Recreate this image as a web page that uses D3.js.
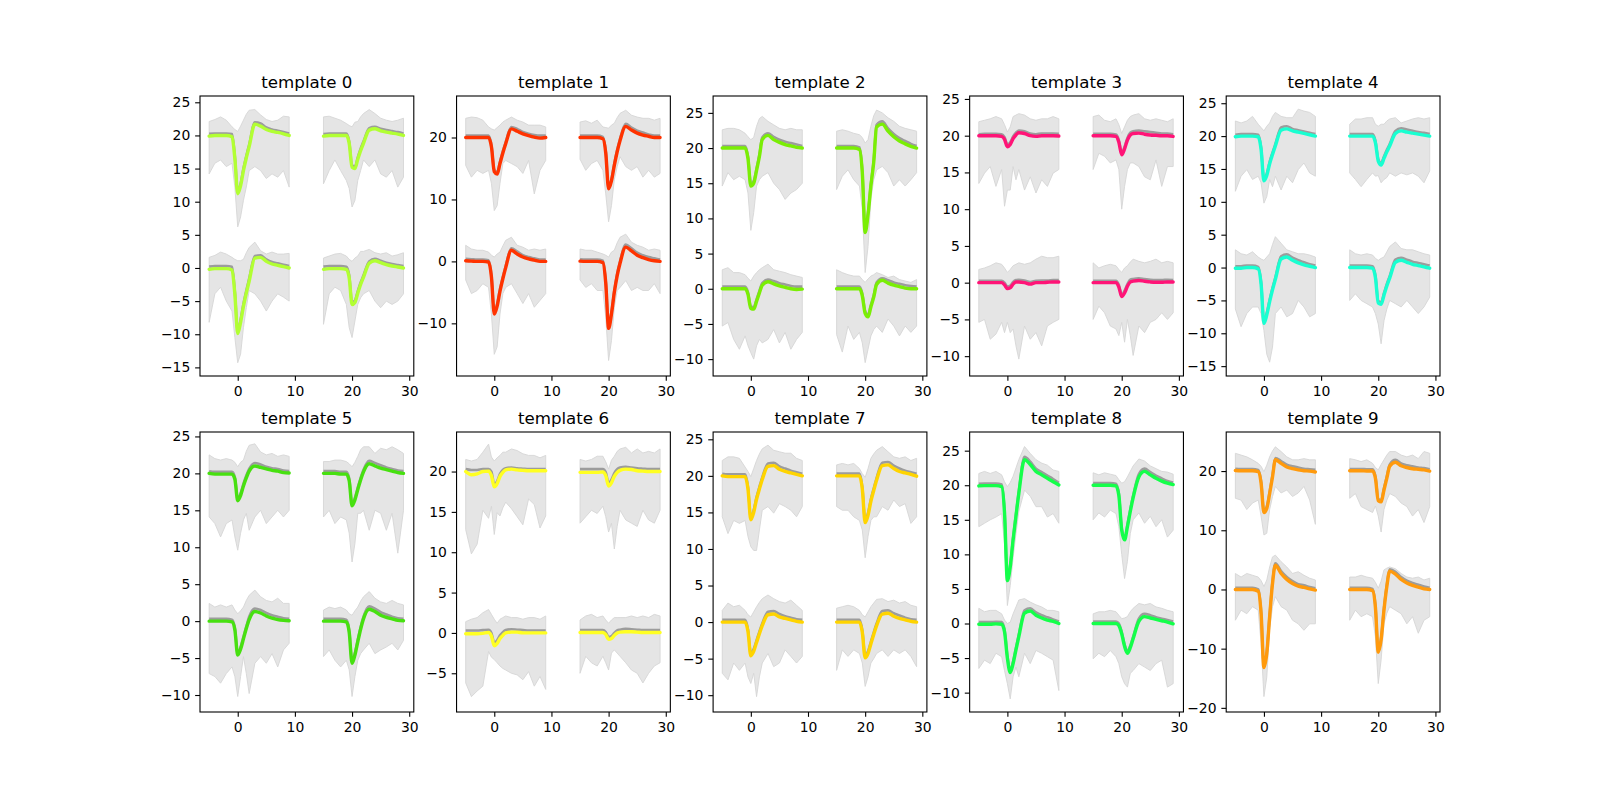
<!DOCTYPE html>
<html>
<head>
<meta charset="utf-8">
<script src="https://cdn.jsdelivr.net/npm/d3@7"></script>
<style>
  body { margin: 0; background: #fff; }
  svg { display: block; font-family: "DejaVu Sans", sans-serif; }
</style>
</head>
<body>
<div id="chart"></div>
<script>
// sample times shared by every channel
const times = [-5,-4,-3,-2,-1,-0.5,0,0.5,1,1.5,2,3,4,5,6,7,8,9];
// where each of the 4 channels sits in the panel
const chanX = [0, 20, 0, 20];
const chanY = [20, 20, 0, 0];

const colors = ["#b2ff33","#ff3300","#7aee05","#ff1477","#19ffd1",
                "#47e010","#ffff22","#ffd400","#14ff4a","#ff9a0d"];
const yDomains = [[-16.3,25.95],[-18.5,26.7],[-12.4,27.4],[-12.7,25.4],[-16.5,26.1],
                  [-12.3,25.6],[-9.8,24.9],[-12.3,26.0],[-12.8,27.7],[-20.7,26.6]];
const yTickSteps = [5,10,5,5,5,5,5,5,5,10];
const xDomain = [-6.6, 30.8];
const xTicks = [0,10,20,30];

// template 0
const tmpl0 = [[-0.1,0,0,0,-0.2,-3.5,-8.8,-7.6,-5.3,-3.4,-1.7,1.7,1.4,0.9,0.6,0.45,0.25,0],
  [-0.1,0,0,0,0,-1.2,-4.8,-5.0,-3.6,-2.3,-1.2,0.8,1.0,0.7,0.5,0.35,0.2,0],
  [-0.2,-0.1,-0.1,-0.1,-0.3,-4.0,-9.9,-8.2,-5.8,-3.8,-2.0,1.5,1.6,1.0,0.6,0.4,0.2,0],
  [-0.2,-0.1,-0.1,-0.1,-0.2,-1.5,-5.5,-5.2,-3.8,-2.5,-1.4,0.7,1.1,0.8,0.5,0.3,0.15,0]];
const med0 = [[0.25,0.3,0.3,0.3,0.2,-3.2,-8.5,-7.3,-5.0,-3.1,-1.4,2.0,1.8,1.2,0.9,0.7,0.5,0.3],
  [0.2,0.3,0.3,0.3,0.3,-0.9,-4.5,-4.7,-3.3,-2.0,-0.9,1.1,1.3,1.0,0.8,0.65,0.5,0.3],
  [0.2,0.3,0.3,0.3,0.2,-3.6,-9.5,-7.8,-5.4,-3.4,-1.6,1.8,1.9,1.3,0.9,0.7,0.5,0.3],
  [0.2,0.3,0.3,0.3,0.2,-1.1,-5.2,-4.9,-3.5,-2.2,-1.1,1.0,1.4,1.1,0.8,0.6,0.45,0.3]];
const hi0 = [[2.1,2.4,2.8,2.3,1.3,0.9,0.6,1.4,2.3,3.2,3.8,3.9,3.1,2.4,2.1,2.3,2.9,2.8],
  [2.8,2.9,2.6,2.3,1.8,1.5,1.3,2.0,2.1,2.8,3.3,3.9,3.3,2.6,2.3,2.1,2.3,2.6],
  [1.6,1.9,2.4,2.1,1.6,1.3,1.1,1.1,1.3,2.3,3.1,3.9,2.6,2.1,2.4,2.1,2.1,2.2],
  [1.5,1.8,2.1,2.2,1.8,1.3,1.0,1.5,1.8,2.5,2.5,2.8,2.3,2.1,2.3,1.8,2.0,2.3]];
const lo0 = [[-5.8,-4.2,-3.7,-4.7,-4.2,-7.8,-13.8,-12.3,-9.8,-7.8,-5.3,-4.7,-5.3,-6.5,-5.8,-6.3,-5.3,-7.8],
  [-7.3,-5.3,-3.7,-5.3,-6.8,-8.0,-10.8,-9.8,-6.8,-5.3,-3.7,-4.7,-3.7,-5.8,-6.3,-5.3,-7.8,-6.3],
  [-8.2,-3.9,-2.9,-5.0,-6.5,-10.5,-14.3,-13.0,-9.0,-6.0,-3.4,-3.9,-5.0,-6.5,-5.0,-3.9,-4.4,-5.0],
  [-8.5,-3.9,-2.9,-3.4,-5.5,-9.0,-10.5,-8.0,-5.5,-4.5,-3.9,-3.4,-5.0,-6.0,-5.0,-5.5,-5.0,-3.9]];

// template 1
const tmpl1 = [[0,0,0,0,0,-1.5,-5.5,-5.9,-4.2,-2.5,-1.0,1.4,1.0,0.6,0.3,0.05,-0.1,0],
  [0,0,0,0,-0.2,-2.5,-8.3,-7.0,-4.5,-2.3,-0.5,1.8,1.2,0.7,0.4,0.2,0,0],
  [0.1,0.05,0,0,-0.1,-2.5,-8.5,-7.2,-4.8,-2.8,-1.0,1.8,1.2,0.7,0.4,0.2,0,0],
  [0.05,0,0,0,-0.2,-3.5,-10.8,-8.5,-5.0,-2.3,-0.3,2.3,1.7,1.0,0.6,0.3,0.1,0]];
const med1 = [[0.3,0.3,0.3,0.3,0.3,-1.2,-5.2,-5.6,-3.9,-2.2,-0.7,1.7,1.4,0.9,0.6,0.4,0.3,0.3],
  [0.3,0.3,0.3,0.3,0.1,-2.2,-8.0,-6.7,-4.2,-2.0,-0.2,2.2,1.6,1.1,0.8,0.5,0.3,0.3],
  [0.4,0.35,0.3,0.3,0.2,-2.2,-8.2,-6.9,-4.5,-2.5,-0.7,2.1,1.6,1.0,0.7,0.5,0.3,0.3],
  [0.35,0.3,0.3,0.3,0.1,-3.2,-10.5,-8.2,-4.7,-2.0,0,2.7,2.1,1.4,1.0,0.7,0.5,0.3]];
const hi1 = [[3.1,3.3,3.2,2.8,1.7,1.4,1.2,1.6,2.0,2.5,2.8,3.3,2.8,2.5,2.0,2.0,2.0,1.7],
  [2.5,2.7,2.3,2.8,1.7,1.6,1.5,2.0,2.3,3.2,3.9,4.4,3.6,3.3,3.1,3.1,2.8,3.1],
  [2.6,2.0,1.8,1.8,1.5,1.0,0.7,1.2,1.5,2.5,3.4,3.9,2.6,2.3,1.8,2.0,1.8,2.0],
  [2.0,1.8,1.8,1.5,1.2,1.0,0.7,1.5,1.8,3.0,3.9,4.4,3.1,2.6,2.3,1.8,2.0,1.8]];
const lo1 = [[-4.5,-6.4,-5.3,-5.8,-5.3,-7.4,-11.8,-11.0,-7.4,-4.2,-3.7,-4.2,-4.7,-5.8,-3.7,-9.1,-5.3,-3.7],
  [-3.5,-5.3,-4.2,-3.7,-5.3,-9.1,-13.6,-11.0,-6.8,-4.7,-3.1,-4.7,-5.3,-4.7,-6.4,-5.3,-6.4,-5.8],
  [-3.0,-5.2,-4.7,-3.6,-4.2,-8.5,-15.0,-13.8,-8.5,-5.2,-4.2,-3.6,-5.2,-6.8,-5.2,-7.4,-6.3,-5.2],
  [-3.0,-4.2,-3.6,-4.7,-4.7,-9.0,-16.0,-12.8,-7.4,-4.7,-4.2,-3.1,-4.7,-4.2,-4.7,-4.7,-3.6,-5.2]];

// template 2
const tmpl2 = [[0,0,0,0,0,-1.5,-5.4,-5.0,-3.2,-1.2,1.2,1.8,1.2,0.8,0.5,0.3,0.1,0],
  [0,0,0,0,-0.2,-3.5,-12.0,-9.5,-5.4,-2.0,3.0,3.4,2.4,1.6,1.0,0.6,0.25,0],
  [0,0,0,0,0,-0.8,-2.8,-2.9,-1.8,-0.6,0.5,1.0,0.7,0.4,0.2,0,-0.1,-0.05],
  [0,0,0,0,0,-1.0,-3.5,-4.0,-2.6,-1.2,0.6,1.2,0.8,0.5,0.3,0.1,0,0]];
const med2 = [[0.3,0.3,0.3,0.3,0.3,-1.2,-5.1,-4.7,-2.9,-0.9,1.5,2.1,1.6,1.2,0.9,0.7,0.5,0.3],
  [0.3,0.3,0.3,0.3,0.1,-3.2,-11.7,-9.2,-5.1,-1.7,3.3,3.8,2.8,2.0,1.4,1.0,0.6,0.3],
  [0.3,0.3,0.3,0.3,0.3,-0.5,-2.5,-2.6,-1.5,-0.3,0.8,1.3,1.1,0.8,0.6,0.4,0.3,0.3],
  [0.3,0.3,0.3,0.3,0.3,-0.7,-3.2,-3.7,-2.3,-0.9,0.9,1.5,1.2,0.9,0.7,0.5,0.4,0.3]];
const hi2 = [[2.6,2.8,2.8,2.6,2.1,1.6,1.2,1.5,3.1,4.2,4.5,3.8,3.3,2.8,2.6,2.8,2.6,2.6],
  [2.4,2.6,2.4,2.1,1.9,1.5,0.7,1.2,3.1,4.6,5.4,5.0,4.3,3.8,3.1,2.8,2.6,2.4],
  [2.7,3.0,2.3,2.3,2.0,1.5,1.1,1.8,2.3,2.7,3.0,3.5,2.7,2.5,2.3,2.0,1.8,1.6],
  [2.7,2.3,2.0,1.8,1.8,1.3,0.9,1.4,1.8,2.0,2.3,2.0,1.6,1.8,1.3,1.1,0.9,1.3]];
const lo2 = [[-5.4,-3.5,-4.5,-4.0,-4.5,-6.4,-11.7,-9.2,-5.4,-4.5,-4.0,-3.5,-5.0,-5.9,-7.3,-6.4,-5.9,-5.0],
  [-5.9,-4.0,-3.1,-4.5,-5.4,-8.7,-17.7,-14.0,-7.3,-4.5,-3.1,-2.6,-3.5,-5.4,-4.5,-5.4,-4.5,-3.5],
  [-5.3,-4.8,-7.2,-8.6,-6.7,-8.1,-9.1,-10.0,-8.1,-7.2,-7.7,-7.2,-5.8,-7.7,-6.2,-8.6,-7.2,-6.2],
  [-6.5,-9.0,-5.3,-7.2,-6.2,-7.7,-10.5,-8.6,-6.7,-5.8,-5.3,-6.2,-4.3,-5.3,-6.7,-5.3,-6.2,-5.3]];

// template 3
const tmpl3 = [[0,0,0,0,-0.1,-0.5,-1.5,-1.2,-0.4,0.1,0.4,0.3,0,-0.1,0,0,0,-0.05],
  [0,0,0,0,-0.1,-0.9,-2.6,-1.8,-0.6,0.1,0.3,0.35,0.2,0.1,0.05,0,0,-0.1],
  [0,0,0,0,0,-0.3,-0.8,-0.7,-0.2,0.1,0.1,0,-0.2,0,0,0.05,0.1,0.1],
  [0,0,0,0,0,-0.6,-1.9,-1.4,-0.5,0.1,0.2,0.3,0.2,0.1,0.05,0.05,0.1,0.1]];
const med3 = [[0.2,0.25,0.25,0.25,0.2,-0.2,-1.2,-0.9,-0.1,0.4,0.7,0.6,0.3,0.2,0.3,0.3,0.3,0.25],
  [0.25,0.25,0.25,0.25,0.15,-0.6,-2.3,-1.5,-0.3,0.4,0.6,0.7,0.6,0.5,0.4,0.3,0.3,0.2],
  [0.25,0.25,0.25,0.25,0.25,0,-0.5,-0.4,0.1,0.35,0.4,0.3,0.1,0.25,0.3,0.3,0.35,0.35],
  [0.25,0.25,0.25,0.25,0.25,-0.3,-1.6,-1.1,-0.2,0.4,0.5,0.6,0.5,0.4,0.35,0.35,0.4,0.35]];
const hi3 = [[1.9,2.1,2.3,2.6,2.3,1.5,0.5,1.2,2.6,2.8,3.0,2.8,2.3,2.1,2.3,2.3,2.6,2.3],
  [2.6,2.8,2.1,1.9,2.3,1.5,0.3,1.2,2.1,2.6,2.8,3.0,2.3,2.1,2.3,2.1,1.9,2.3],
  [1.8,2.0,2.3,2.7,2.5,2.0,1.4,1.8,2.3,2.5,2.7,2.5,2.7,3.2,3.6,3.4,3.4,3.6],
  [2.7,2.0,2.3,2.5,2.3,1.8,1.4,2.0,2.3,2.8,3.2,2.9,2.7,2.9,3.2,2.7,2.9,2.7]];
const lo3 = [[-6.5,-5.1,-4.2,-6.9,-4.6,-9.6,-7.4,-7.4,-4.2,-6.0,-4.6,-7.4,-5.6,-7.8,-6.0,-6.9,-5.1,-4.6],
  [-4.6,-2.4,-2.8,-3.7,-3.3,-4.6,-10.0,-6.9,-4.6,-3.7,-3.7,-4.2,-5.6,-6.0,-3.3,-6.9,-4.2,-4.2],
  [-5.4,-5.0,-7.7,-7.0,-5.4,-6.8,-5.4,-6.8,-6.3,-8.6,-10.4,-5.9,-7.7,-6.8,-8.6,-5.9,-5.4,-5.0],
  [-5.0,-3.2,-4.1,-5.9,-6.3,-7.2,-5.4,-8.1,-5.0,-7.2,-9.9,-5.9,-6.8,-5.4,-5.0,-4.1,-5.0,-4.1]];

// template 4
const tmpl4 = [[-0.1,0,0,0,-0.1,-2.0,-6.8,-6.0,-4.2,-2.8,-1.5,0.9,1.1,0.8,0.6,0.4,0.2,0],
  [0,0,0,0,0,-1.0,-3.8,-4.4,-3.4,-2.4,-1.5,0.4,0.8,0.6,0.45,0.3,0.15,0],
  [-0.1,-0.1,0,0,-0.2,-2.5,-8.5,-7.2,-5.2,-3.4,-1.8,1.3,1.6,1.1,0.7,0.4,0.2,0],
  [0,0,0,0,-0.1,-1.5,-5.4,-5.6,-4.2,-2.8,-1.6,0.8,1.1,0.8,0.5,0.3,0.1,-0.1]];
const med4 = [[0.2,0.3,0.3,0.3,0.2,-1.7,-6.5,-5.7,-3.9,-2.5,-1.2,1.3,1.5,1.1,0.9,0.7,0.5,0.3],
  [0.3,0.3,0.3,0.3,0.3,-0.7,-3.5,-4.1,-3.1,-2.1,-1.2,0.8,1.2,1.0,0.8,0.6,0.5,0.3],
  [0.2,0.2,0.3,0.3,0.1,-2.2,-8.2,-6.9,-4.9,-3.1,-1.5,1.7,2.0,1.5,1.1,0.8,0.5,0.3],
  [0.3,0.3,0.3,0.3,0.2,-1.2,-5.1,-5.3,-3.9,-2.5,-1.3,1.2,1.5,1.2,0.9,0.7,0.5,0.3]];
const hi4 = [[2.3,2.0,2.3,3.0,1.8,1.3,0.8,1.5,2.0,3.0,3.6,3.0,2.8,2.8,4.1,3.8,3.6,3.0],
  [1.8,2.6,2.6,2.8,2.8,1.8,1.5,1.8,1.8,2.3,2.6,2.8,2.0,2.3,2.6,2.8,2.6,2.8],
  [2.7,2.1,1.9,2.4,1.6,1.3,1.1,1.6,2.1,3.5,4.7,3.7,2.7,2.4,2.1,2.1,1.9,1.6],
  [2.7,2.1,1.9,2.1,1.9,1.4,1.1,1.4,1.6,2.4,3.2,3.9,2.9,2.7,2.7,2.4,2.1,1.9]];
const lo4 = [[-8.4,-6.1,-5.1,-6.6,-6.1,-7.1,-10.2,-9.2,-6.6,-7.7,-6.1,-8.2,-6.1,-7.1,-5.1,-4.1,-5.6,-6.1],
  [-5.6,-6.6,-7.7,-6.6,-5.6,-6.1,-6.0,-7.1,-6.6,-6.3,-5.6,-6.1,-5.6,-5.9,-5.6,-6.1,-7.1,-5.3],
  [-6.3,-9.0,-7.0,-6.0,-6.0,-7.0,-9.6,-13.2,-14.4,-12.1,-7.0,-6.0,-7.5,-7.0,-5.0,-6.0,-7.5,-7.0],
  [-5.0,-4.0,-5.0,-5.5,-6.0,-7.0,-8.6,-11.6,-8.1,-6.3,-5.0,-5.5,-6.0,-5.0,-6.0,-7.0,-6.0,-4.5]];

// template 5
const tmpl5 = [[0,-0.1,-0.1,-0.1,-0.1,-0.8,-3.7,-3.0,-1.7,-0.6,0.3,1.0,0.8,0.6,0.4,0.3,0.1,0.05],
  [0,0,0,-0.1,-0.1,-1.0,-4.4,-3.6,-2.2,-0.9,0.2,1.3,1.0,0.7,0.5,0.3,0.1,0],
  [0,0,0,0,-0.1,-1.2,-4.6,-3.8,-2.4,-1.0,0.2,1.3,1.1,0.7,0.4,0.2,0.1,0.05],
  [0,0,0,0,-0.1,-1.5,-5.7,-4.6,-2.8,-1.1,0.3,1.6,1.3,0.8,0.5,0.3,0.1,0.05]];
const med5 = [[0.3,0.2,0.2,0.2,0.2,-0.5,-3.4,-2.7,-1.4,-0.3,0.6,1.4,1.2,0.9,0.7,0.6,0.4,0.3],
  [0.3,0.3,0.3,0.2,0.2,-0.7,-4.1,-3.3,-1.9,-0.6,0.5,1.7,1.4,1.1,0.8,0.6,0.4,0.3],
  [0.3,0.3,0.3,0.3,0.2,-0.9,-4.3,-3.5,-2.1,-0.7,0.6,1.7,1.5,1.1,0.8,0.6,0.4,0.3],
  [0.3,0.3,0.3,0.3,0.2,-1.2,-5.4,-4.3,-2.5,-0.8,0.6,2.0,1.7,1.2,0.9,0.6,0.4,0.3]];
const hi5 = [[2.5,2.0,1.8,2.0,1.8,1.5,0.9,1.5,1.8,3.0,3.8,4.0,2.9,2.5,2.7,2.3,2.5,2.3],
  [1.6,1.6,1.8,1.8,1.6,1.3,0.9,1.5,2.3,3.2,3.6,3.6,2.7,3.4,3.2,3.6,3.2,2.7],
  [2.4,1.9,2.2,1.9,2.2,1.5,1.0,1.4,1.9,2.8,3.5,4.2,3.3,2.8,2.6,3.1,2.4,2.4],
  [1.5,1.9,1.7,1.9,1.5,1.0,0.8,1.4,1.9,2.7,3.3,4.0,3.1,2.6,2.4,2.8,2.4,2.2]];
const lo5 = [[-5.9,-6.8,-8.6,-6.8,-6.3,-8.6,-10.4,-8.1,-6.3,-5.4,-7.7,-5.9,-5.0,-6.8,-5.9,-5.0,-5.9,-5.0],
  [-5.9,-5.0,-6.8,-5.9,-6.3,-8.1,-12.0,-9.5,-5.4,-5.4,-5.0,-7.7,-5.0,-5.4,-7.7,-5.4,-10.8,-5.0],
  [-7.1,-7.5,-8.4,-7.1,-6.2,-7.5,-10.2,-7.5,-4.8,-7.1,-9.8,-5.7,-4.8,-5.7,-4.4,-6.2,-3.9,-3.0],
  [-4.8,-3.9,-5.3,-6.2,-5.3,-6.6,-10.2,-7.5,-5.3,-4.4,-3.9,-3.0,-4.4,-3.9,-3.5,-3.0,-3.9,-2.6]];

// template 6
const tmpl6 = [[0,-0.4,-0.3,0,0.05,-0.5,-1.9,-1.5,-0.6,-0.1,0.2,0.3,0.2,0.15,0.1,0.1,0.1,0.1],
  [-0.1,-0.1,-0.1,-0.1,-0.05,-0.5,-1.8,-1.4,-0.6,-0.1,0.15,0.3,0.25,0.1,0.05,0,0,0],
  [-0.1,-0.1,-0.1,-0.05,0.05,-0.4,-1.6,-1.3,-0.7,-0.3,0,0.1,0.1,0,0,0,0,0],
  [0.05,0.05,0.05,0.05,0.05,-0.2,-0.8,-0.7,-0.3,0,0.1,0.15,0.15,0.1,0.05,0.05,0.05,0.05]];
const med6 = [[0.3,0.2,0.2,0.3,0.3,0,-1.6,-1.2,-0.3,0.2,0.4,0.5,0.4,0.35,0.3,0.3,0.3,0.3],
  [0.3,0.3,0.3,0.3,0.3,-0.1,-1.4,-1.0,-0.2,0.3,0.5,0.6,0.5,0.4,0.35,0.3,0.3,0.3],
  [0.3,0.3,0.3,0.35,0.4,0,-1.2,-0.9,-0.3,0.1,0.35,0.45,0.4,0.35,0.3,0.3,0.3,0.3],
  [0.35,0.35,0.35,0.35,0.35,0.1,-0.5,-0.4,0,0.3,0.4,0.5,0.45,0.4,0.35,0.35,0.35,0.35]];
const hi6 = [[1.5,1.3,1.5,2.4,3.4,1.8,1.3,1.7,2.0,2.4,2.4,2.8,2.6,2.2,2.0,2.0,1.7,2.0],
  [1.5,1.3,1.5,1.9,1.9,1.2,0.3,1.4,1.9,2.5,2.8,3.0,2.3,2.8,2.3,2.5,2.3,2.8],
  [1.4,1.7,1.9,2.5,2.9,2.3,1.7,1.2,1.7,1.9,2.1,1.9,1.9,1.7,1.9,1.9,1.7,2.1],
  [1.6,2.1,2.3,1.9,2.1,1.6,1.2,1.6,1.9,1.9,1.9,1.9,2.1,1.9,2.1,1.9,2.3,2.1]];
const lo6 = [[-7.2,-10.2,-9.0,-4.8,-5.8,-4.3,-7.8,-5.1,-5.5,-4.5,-3.8,-4.6,-5.6,-6.6,-3.4,-4.1,-7.0,-5.5],
  [-6.4,-5.6,-4.8,-5.2,-4.3,-5.6,-7.5,-6.4,-9.6,-6.8,-4.8,-6.0,-6.4,-6.8,-4.8,-6.0,-6.4,-4.8],
  [-6.2,-7.9,-7.2,-6.6,-2.3,-3.0,-3.3,-3.7,-4.1,-4.4,-4.6,-5.0,-5.2,-5.8,-4.8,-6.6,-5.4,-7.0],
  [-5.0,-2.9,-3.7,-4.1,-2.9,-3.7,-4.6,-2.5,-2.1,-2.5,-2.9,-3.7,-4.6,-5.0,-6.2,-5.0,-4.1,-3.7]];

// template 7
const tmpl7 = [[0,-0.1,-0.1,-0.1,-0.1,-1.8,-6.0,-5.0,-3.2,-1.8,-0.5,1.3,1.4,0.9,0.6,0.4,0.2,0],
  [0,0,0,0,0,-1.8,-6.4,-5.4,-3.5,-2.0,-0.6,1.4,1.5,1.0,0.6,0.4,0.2,-0.05],
  [0,0,0,0,0,-1.3,-4.6,-4.0,-2.8,-1.6,-0.5,1.0,1.1,0.7,0.5,0.3,0.1,0],
  [0,0,0,0,0,-1.4,-4.9,-4.3,-3.0,-1.7,-0.5,1.1,1.2,0.8,0.5,0.3,0.1,0]];
const med7 = [[0.3,0.2,0.2,0.2,0.2,-1.5,-5.7,-4.7,-2.9,-1.5,-0.2,1.7,1.8,1.3,1.0,0.7,0.5,0.3],
  [0.3,0.3,0.3,0.3,0.3,-1.5,-6.1,-5.1,-3.2,-1.7,-0.3,1.8,1.9,1.4,1.0,0.7,0.5,0.3],
  [0.3,0.3,0.3,0.3,0.3,-1.0,-4.3,-3.7,-2.5,-1.3,-0.2,1.4,1.5,1.1,0.8,0.6,0.4,0.3],
  [0.3,0.3,0.3,0.3,0.3,-1.1,-4.6,-4.0,-2.7,-1.4,-0.2,1.5,1.6,1.2,0.9,0.6,0.4,0.3]];
const hi7 = [[2.1,2.6,2.6,2.4,1.2,0.6,-0.1,1.0,2.1,3.0,3.7,4.2,3.5,3.3,3.1,3.1,2.4,2.1],
  [1.5,1.7,1.5,1.7,1.0,0.3,-0.2,1.0,2.4,3.0,3.5,4.0,3.3,2.6,2.4,2.6,2.1,2.4],
  [1.6,2.6,2.1,2.3,1.6,1.0,0.7,1.4,2.1,2.7,3.2,3.7,3.2,2.8,2.6,3.0,2.3,1.6],
  [1.9,2.1,2.3,2.1,1.6,1.0,0.7,1.4,2.1,2.6,3.1,3.2,2.8,3.0,2.6,2.8,2.3,2.1]];
const lo7 = [[-5.6,-7.9,-6.1,-6.5,-6.1,-8.3,-9.7,-10.2,-10.2,-7.4,-4.7,-4.2,-5.1,-3.8,-4.2,-4.7,-5.6,-4.2],
  [-4.2,-4.7,-4.7,-5.6,-6.1,-7.4,-11.2,-8.3,-6.1,-5.6,-5.6,-4.2,-4.7,-3.3,-4.2,-3.8,-6.5,-5.6],
  [-7.0,-7.9,-5.6,-6.6,-5.6,-7.5,-8.4,-7.0,-10.2,-7.5,-5.6,-4.3,-6.1,-5.6,-3.8,-4.7,-5.6,-4.7],
  [-6.6,-3.8,-4.7,-3.8,-4.3,-5.6,-8.8,-7.5,-5.6,-5.0,-4.3,-3.8,-4.7,-3.8,-4.3,-3.8,-4.7,-6.1]];

// template 8
const tmpl8 = [[-0.1,-0.05,-0.05,-0.05,-0.2,-4.0,-13.8,-11.8,-7.9,-4.5,-1.2,3.7,3.0,2.0,1.5,1.0,0.5,0.05],
  [0,0,0,0,-0.1,-1.5,-6.5,-7.9,-6.0,-3.8,-1.8,1.2,2.0,1.5,1.0,0.6,0.3,0.1],
  [-0.1,-0.1,-0.1,-0.05,-0.1,-1.2,-5.0,-7.1,-5.8,-3.8,-1.9,1.5,1.8,1.2,0.8,0.5,0.3,0],
  [0,0,0,0,0,-0.3,-1.5,-3.3,-4.3,-3.5,-2.2,0.3,1.0,0.8,0.6,0.4,0.2,-0.05]];
const med8 = [[0.2,0.25,0.25,0.25,0.1,-3.7,-13.5,-11.5,-7.6,-4.2,-0.9,4.1,3.4,2.4,1.9,1.4,0.9,0.35],
  [0.3,0.3,0.3,0.3,0.2,-1.2,-6.2,-7.6,-5.7,-3.5,-1.5,1.6,2.4,1.9,1.4,1.0,0.6,0.4],
  [0.2,0.2,0.2,0.25,0.2,-0.9,-4.7,-6.8,-5.5,-3.5,-1.6,1.9,2.2,1.6,1.2,0.9,0.6,0.3],
  [0.3,0.3,0.3,0.3,0.3,0,-1.2,-3.0,-4.0,-3.2,-1.9,0.7,1.4,1.2,0.9,0.7,0.5,0.3]];
const hi8 = [[1.7,2.0,1.7,2.0,1.5,0.5,-0.2,0.4,1.3,2.5,3.7,5.6,4.6,3.7,3.2,2.9,2.2,2.0],
  [1.8,1.5,1.8,1.6,1.4,0.8,0.3,0.5,1.2,2.0,2.8,3.8,3.5,2.8,2.4,2.0,1.9,1.6],
  [2.2,1.7,1.9,1.9,1.4,0.5,0,0.2,1.4,2.4,3.4,3.6,3.1,2.7,2.4,1.9,1.9,1.7],
  [1.4,1.7,1.7,1.9,1.7,1.2,0.7,0.8,1.0,1.7,2.2,2.9,2.7,2.9,2.4,2.2,1.9,1.7]];
const lo8 = [[-6.0,-5.5,-5.0,-4.6,-4.1,-8.5,-17.4,-14.5,-10.5,-7.0,-3.8,-0.7,-1.6,-3.1,-3.1,-4.6,-4.1,-5.5],
  [-5.0,-4.0,-4.6,-3.6,-4.1,-6.0,-10.0,-13.5,-11.0,-7.0,-5.0,-4.0,-5.5,-4.5,-6.0,-5.0,-7.5,-6.5],
  [-6.5,-5.3,-5.8,-4.3,-4.8,-6.8,-8.7,-10.9,-7.7,-6.3,-7.7,-4.3,-5.8,-3.9,-4.3,-4.8,-5.3,-9.7],
  [-5.1,-4.3,-4.8,-3.9,-4.8,-5.8,-7.7,-8.7,-9.2,-7.2,-6.8,-5.8,-6.3,-6.8,-5.8,-5.3,-9.2,-8.7]];

// template 9
const tmpl9 = [[0.1,0.05,0.05,0.05,-0.1,-2.0,-7.0,-6.3,-3.8,-1.0,1.9,1.3,0.7,0.4,0.2,0.05,0,-0.15],
  [0.05,0.05,0.05,0,0,-1.2,-5.0,-5.2,-3.2,-1.2,0.8,1.5,0.9,0.6,0.4,0.3,0.2,0],
  [0,0,0,0,-0.3,-4.0,-13.2,-10.8,-4.6,1.0,4.1,2.7,1.7,1.0,0.55,0.35,0.1,-0.1],
  [0,0,0,0,-0.2,-3.0,-10.6,-8.5,-3.5,0.5,3.1,2.6,1.7,1.1,0.7,0.4,0.1,0]];
const med9 = [[0.4,0.35,0.35,0.35,0.2,-1.7,-6.7,-6.0,-3.5,-0.7,2.2,1.7,1.1,0.8,0.6,0.4,0.3,0.2],
  [0.35,0.35,0.35,0.3,0.3,-0.9,-4.7,-4.9,-2.9,-0.9,1.1,1.9,1.3,1.0,0.8,0.6,0.5,0.3],
  [0.3,0.3,0.3,0.3,0,-3.7,-12.9,-10.5,-4.3,1.3,4.4,3.1,2.1,1.4,0.9,0.7,0.4,0.2],
  [0.3,0.3,0.3,0.3,0.1,-2.7,-10.3,-8.2,-3.2,0.8,3.4,3.0,2.1,1.5,1.1,0.8,0.5,0.3]];
const hi9 = [[3.0,2.7,2.4,1.9,1.3,0.8,-0.1,1.0,2.4,3.4,4.1,3.3,2.4,1.9,1.9,2.1,1.9,1.9],
  [2.1,1.9,1.6,1.9,1.3,0.6,0.2,1.1,1.9,2.7,3.3,3.3,2.7,2.4,2.7,2.1,3.3,3.0],
  [2.7,2.1,2.7,2.4,2.1,1.5,0.5,1.6,3.8,5.5,5.8,4.7,3.8,2.7,3.0,2.4,1.9,1.6],
  [2.1,2.1,2.4,2.1,1.9,1.2,0.2,1.4,3.3,3.6,3.8,3.5,2.7,2.1,1.9,2.1,1.6,1.9]];
const lo9 = [[-4.6,-4.9,-6.5,-5.4,-4.9,-7.6,-10.8,-10.5,-6.5,-4.3,-2.6,-3.7,-3.2,-4.3,-3.7,-2.6,-4.9,-9.0],
  [-4.6,-3.8,-6.0,-6.5,-7.0,-5.9,-7.6,-10.3,-6.5,-4.9,-3.8,-4.3,-5.4,-6.0,-7.6,-6.5,-8.7,-6.0],
  [-5.2,-3.5,-4.1,-2.9,-3.5,-9.1,-18.1,-14.8,-6.8,-2.9,-1.2,-2.9,-3.5,-5.2,-5.8,-6.9,-5.8,-5.8],
  [-5.2,-3.5,-4.6,-4.1,-4.6,-8.0,-15.9,-11.9,-5.8,-4.0,-2.9,-3.5,-4.1,-5.8,-4.6,-7.4,-5.2,-4.6]];

const tmpls = [tmpl0,tmpl1,tmpl2,tmpl3,tmpl4,tmpl5,tmpl6,tmpl7,tmpl8,tmpl9];
const meds  = [med0,med1,med2,med3,med4,med5,med6,med7,med8,med9];
const his   = [hi0,hi1,hi2,hi3,hi4,hi5,hi6,hi7,hi8,hi9];
const los   = [lo0,lo1,lo2,lo3,lo4,lo5,lo6,lo7,lo8,lo9];

// figure layout (matplotlib-like subplot grid 2 x 5)
const W = 1600, H = 800;
const figLeft = 200, figRight = 1440, figTop = 96, figBottom = 712;
const axW = (figRight - figLeft) / (5 + 4 * 0.2);
const axH = (figBottom - figTop) / (2 + 0.2);
const tickLen = 4.86, tickPad = 4.86;

const svg = d3.select("#chart").append("svg")
  .attr("width", W).attr("height", H);

const x = d3.scaleLinear().domain(xDomain).range([0, axW]);

tmpls.forEach((tp, i) => {
  const col = i % 5, row = Math.floor(i / 5);
  const g = svg.append("g")
    .attr("transform", `translate(${figLeft + col * axW * 1.2},${figTop + row * axH * 1.2})`);

  const y = d3.scaleLinear().domain(yDomains[i]).range([axH, 0]);

  const area = d3.area()
    .x(d => x(d.t)).y0(d => y(d.lo)).y1(d => y(d.hi));
  const medLine = d3.line().curve(d3.curveMonotoneX)
    .x(d => x(d.t)).y(d => y(d.m));
  const tmplLine = d3.line().curve(d3.curveMonotoneX)
    .x(d => x(d.t)).y(d => y(d.v));

  for (let c = 0; c < 4; c++) {
    const pts = times.map((t, k) => ({
      t: t + chanX[c],
      lo: los[i][c][k] + chanY[c],
      hi: his[i][c][k] + chanY[c],
      m: meds[i][c][k] + chanY[c],
      v: tp[c][k] + chanY[c]
    }));
    g.append("path").datum(pts)
      .attr("d", area)
      .attr("fill", "#e5e5e5")
      .attr("stroke", "#d6d6d6")
      .attr("stroke-width", 0.9);
    g.append("path").datum(pts)
      .attr("d", medLine)
      .attr("fill", "none")
      .attr("stroke", "#9c9c9c")
      .attr("stroke-width", 2.6)
      .attr("stroke-linejoin", "round");
    g.append("path").datum(pts)
      .attr("d", tmplLine)
      .attr("fill", "none")
      .attr("stroke", colors[i])
      .attr("stroke-width", 3.4)
      .attr("stroke-linejoin", "round")
      .attr("stroke-linecap", "round");
  }

  // axes
  const step = yTickSteps[i];
  const yTicks = d3.range(Math.ceil(yDomains[i][0] / step) * step, yDomains[i][1] + 1e-9, step);

  const yAxis = g.append("g")
    .call(d3.axisLeft(y).tickValues(yTicks).tickSize(tickLen).tickPadding(tickPad));
  const xAxis = g.append("g")
    .attr("transform", `translate(0,${axH})`)
    .call(d3.axisBottom(x).tickValues(xTicks).tickSize(tickLen).tickPadding(tickPad));

  [yAxis, xAxis].forEach(a => {
    a.select(".domain").remove();
    a.attr("font-family", null).attr("font-size", null);
    a.selectAll("line").attr("stroke", "#000").attr("stroke-width", 1.1);
    a.selectAll("text").attr("fill", "#000").style("font-size", "13.9px")
      .style("font-family", "'DejaVu Sans', sans-serif");
  });

  g.append("rect")
    .attr("width", axW).attr("height", axH)
    .attr("fill", "none").attr("stroke", "#000").attr("stroke-width", 1.1);

  g.append("text")
    .attr("x", axW / 2).attr("y", -8.3)
    .attr("text-anchor", "middle")
    .style("font-size", "16.67px")
    .attr("fill", "#000")
    .text(`template ${i}`);
});
</script>
</body>
</html>
